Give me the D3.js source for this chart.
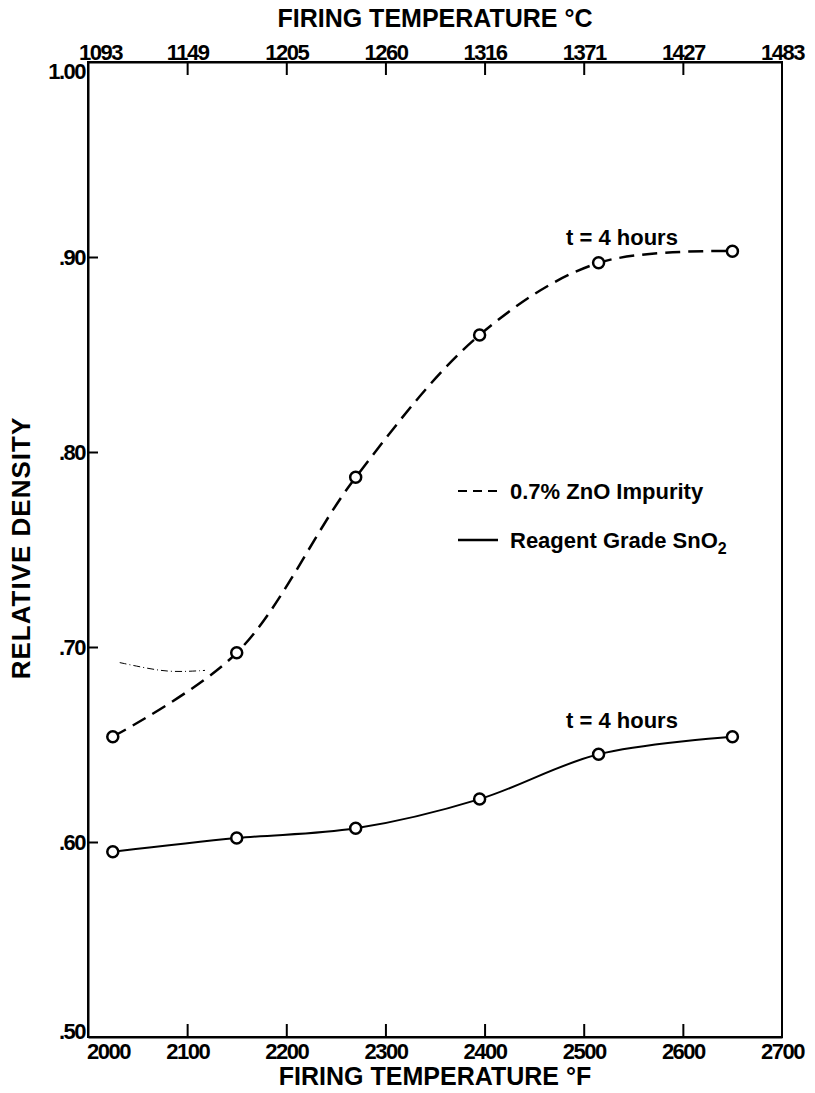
<!DOCTYPE html>
<html>
<head>
<meta charset="utf-8">
<script src="https://cdn.jsdelivr.net/npm/d3@7"></script>
<style>
    body { margin: 0; background: white; }
    text { font-family: "Liberation Sans", Arial, sans-serif; font-weight: bold; fill: black; }
</style>
</head>
<body>
<div id="container"></div>
<script>
var width = 815,
    height = 1093;

var margin = {top: 62, right: 33, bottom: 56, left: 88};

// firing temperatures (°F) of the measured samples
var tempF = [2025, 2150, 2270, 2395, 2515, 2650];
var znoDensity = [0.654, 0.697, 0.787, 0.860, 0.897, 0.903];
var reagentDensity = [0.595, 0.602, 0.607, 0.622, 0.645, 0.654];

// faint pencil stroke near the .70 line
var strayF = [2032, 2060, 2085, 2118];
var strayDensity = [0.692, 0.689, 0.687, 0.688];

var fTicks = [2000, 2100, 2200, 2300, 2400, 2500, 2600, 2700];
var cTickLabels = ["1093", "1149", "1205", "1260", "1316", "1371", "1427", "1483"];
var yTicks = [0.5, 0.6, 0.7, 0.8, 0.9, 1.0];
var yTickLabels = [".50", ".60", ".70", ".80", ".90", "1.00"];

var svg = d3.select("#container")
    .append("svg")
    .attr("width", width)
    .attr("height", height);

var x = d3.scaleLinear().domain([2000, 2700]).range([margin.left, width - margin.right]);
var y = d3.scaleLinear().domain([0.5, 1.0]).range([height - margin.bottom, margin.top]);

var axisG = svg.append("g"),
    lineG = svg.append("g"),
    labelG = svg.append("g");

// frame
axisG.append("rect")
    .attr("x", x(2000))
    .attr("y", y(1.0))
    .attr("width", x(2700) - x(2000))
    .attr("height", y(0.5) - y(1.0))
    .attr("fill", "none")
    .attr("stroke", "black")
    .attr("stroke-width", 2);

// bottom axis (°F)
var bottomAxis = d3.axisBottom(x)
    .tickValues(fTicks)
    .tickFormat(d3.format("d"))
    .tickSizeInner(-13)
    .tickSizeOuter(0)
    .tickPadding(6);

var bottomG = axisG.append("g")
    .attr("transform", "translate(0," + y(0.5) + ")")
    .call(bottomAxis);

// top axis (°C)
var topAxis = d3.axisTop(x)
    .tickValues(fTicks)
    .tickFormat(function (d, i) { return cTickLabels[i]; })
    .tickSizeInner(-13)
    .tickSizeOuter(0)
    .tickPadding(2);

var topG = axisG.append("g")
    .attr("transform", "translate(0," + y(1.0) + ")")
    .call(topAxis);

// left axis
var leftAxis = d3.axisLeft(y)
    .tickValues(yTicks)
    .tickFormat(function (d, i) { return yTickLabels[i]; })
    .tickSizeInner(-10)
    .tickSizeOuter(0)
    .tickPadding(3);

var leftG = axisG.append("g")
    .attr("transform", "translate(" + x(2000) + ",0)")
    .call(leftAxis);

[bottomG, topG, leftG].forEach(function (g) {
    g.select(".domain").attr("stroke-width", 2);
    g.selectAll(".tick line").attr("stroke-width", 2);
    g.selectAll(".tick text")
        .attr("font-family", "Liberation Sans, Arial, sans-serif")
        .attr("font-weight", "bold")
        .attr("font-size", 22)
        .attr("letter-spacing", -1.5);
});

// no tick marks at the corners
bottomG.selectAll(".tick").filter(function (d) { return d == 2000 || d == 2700; }).select("line").remove();
topG.selectAll(".tick").filter(function (d) { return d == 2000 || d == 2700; }).select("line").remove();
leftG.selectAll(".tick").filter(function (d) { return d == 0.5 || d == 1.0; }).select("line").remove();

// shift crowded corner labels
bottomG.selectAll(".tick").filter(function (d) { return d == 2000; }).select("text").attr("dx", 20);
topG.selectAll(".tick").filter(function (d) { return d == 2000; }).select("text").attr("dx", 12);
leftG.selectAll(".tick").filter(function (d) { return d == 1.0; }).select("text").attr("dy", "0.75em");
leftG.selectAll(".tick").filter(function (d) { return d == 0.5; }).select("text").attr("dy", "0.05em");

// axis titles
labelG.append("text")
    .attr("x", (x(2000) + x(2700)) / 2)
    .attr("y", 1085)
    .attr("text-anchor", "middle")
    .attr("font-size", 25)
    .text("FIRING TEMPERATURE \u00B0F");

labelG.append("text")
    .attr("x", (x(2000) + x(2700)) / 2)
    .attr("y", 27)
    .attr("text-anchor", "middle")
    .attr("font-size", 25)
    .text("FIRING TEMPERATURE \u00B0C");

labelG.append("text")
    .attr("transform", "translate(30," + 548 + ") rotate(-90)")
    .attr("text-anchor", "middle")
    .attr("font-size", 26)
    .attr("letter-spacing", 1)
    .text("RELATIVE DENSITY");

// curves
var line = d3.line()
    .x(function (d) { return x(d[0]); })
    .y(function (d) { return y(d[1]); })
    .curve(d3.curveCatmullRom.alpha(0.5));

var znoData = tempF.map(function (t, i) { return [t, znoDensity[i]]; });
var reagentData = tempF.map(function (t, i) { return [t, reagentDensity[i]]; });
var strayData = strayF.map(function (t, i) { return [t, strayDensity[i]]; });

lineG.append("path")
    .datum(strayData)
    .attr("d", line.curve(d3.curveBasis))
    .attr("fill", "none")
    .attr("stroke", "black")
    .attr("stroke-width", 1)
    .attr("stroke-dasharray", "7,3,1,3");

line.curve(d3.curveCatmullRom.alpha(0.5));

lineG.append("path")
    .datum(znoData)
    .attr("d", line)
    .attr("fill", "none")
    .attr("stroke", "black")
    .attr("stroke-width", 2.5)
    .attr("stroke-dasharray", "15,8");

lineG.append("path")
    .datum(reagentData)
    .attr("d", line)
    .attr("fill", "none")
    .attr("stroke", "black")
    .attr("stroke-width", 2);

[znoData, reagentData].forEach(function (data) {
    lineG.selectAll(null)
        .data(data)
        .enter().append("circle")
        .attr("cx", function (d) { return x(d[0]); })
        .attr("cy", function (d) { return y(d[1]); })
        .attr("r", 5.5)
        .attr("fill", "white")
        .attr("stroke", "black")
        .attr("stroke-width", 2.5);
});

// series annotations
labelG.append("text")
    .attr("x", 622)
    .attr("y", 245)
    .attr("text-anchor", "middle")
    .attr("font-size", 22)
    .text("t = 4 hours");

labelG.append("text")
    .attr("x", 622)
    .attr("y", 728)
    .attr("text-anchor", "middle")
    .attr("font-size", 22)
    .text("t = 4 hours");

// legend
var legendG = labelG.append("g").attr("transform", "translate(458,0)");

legendG.append("line")
    .attr("x1", 0).attr("x2", 40)
    .attr("y1", 491).attr("y2", 491)
    .attr("stroke", "black")
    .attr("stroke-width", 2)
    .attr("stroke-dasharray", "9,6");

legendG.append("text")
    .attr("x", 52)
    .attr("y", 499)
    .attr("font-size", 22)
    .text("0.7%  ZnO Impurity");

legendG.append("line")
    .attr("x1", 0).attr("x2", 40)
    .attr("y1", 540).attr("y2", 540)
    .attr("stroke", "black")
    .attr("stroke-width", 2.5);

var reagentText = legendG.append("text")
    .attr("x", 52)
    .attr("y", 548)
    .attr("font-size", 22);

reagentText.append("tspan").text("Reagent Grade SnO");
reagentText.append("tspan")
    .attr("dy", 6)
    .attr("font-size", 16)
    .text("2");
</script>
</body>
</html>
